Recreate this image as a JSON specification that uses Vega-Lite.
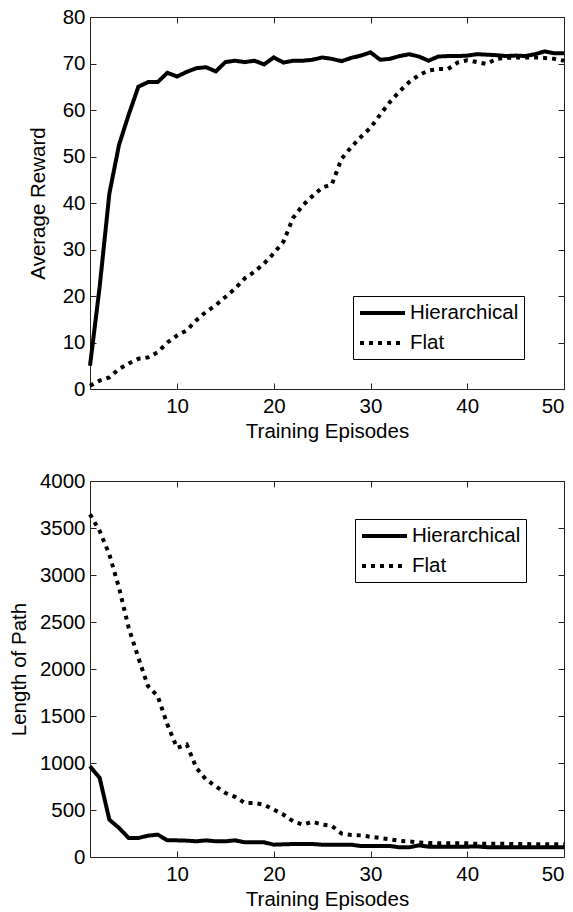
{
  "$schema": "https://vega.github.io/schema/vega-lite/v6.json",
  "background": "white",
  "padding": {"left": 8, "top": 6, "right": 0, "bottom": 0},
  "config": {
    "font": "Liberation Sans",
    "view": {"stroke": "#222", "strokeWidth": 1},
    "axis": {"domain": false, "grid": false, "labelFontSize": 20.5, "labelColor": "black", "titleFontSize": 20.5, "titleFontWeight": "normal", "titleColor": "black", "tickColor": "#222", "tickWidth": 1, "tickSize": -6},
    "legend": {"orient": "none", "title": null, "symbolType": "M-1,0H3.5", "symbolSize": 400, "symbolStrokeWidth": 4, "symbolStrokeColor": "black", "labelFontSize": 20.5, "labelColor": "black", "labelOffset": 28, "strokeColor": "black", "fillColor": "white", "padding": 5, "rowPadding": 7, "cornerRadius": 0}
  },
  "datasets": {
    "runs": [
      {"ep": 1, "method": "Hierarchical", "reward": 5, "length": 965},
      {"ep": 2, "method": "Hierarchical", "reward": 22, "length": 841},
      {"ep": 3, "method": "Hierarchical", "reward": 42, "length": 397},
      {"ep": 4, "method": "Hierarchical", "reward": 52.5, "length": 309},
      {"ep": 5, "method": "Hierarchical", "reward": 59, "length": 202},
      {"ep": 6, "method": "Hierarchical", "reward": 65, "length": 202},
      {"ep": 7, "method": "Hierarchical", "reward": 66, "length": 227},
      {"ep": 8, "method": "Hierarchical", "reward": 66, "length": 238},
      {"ep": 9, "method": "Hierarchical", "reward": 68, "length": 177},
      {"ep": 10, "method": "Hierarchical", "reward": 67.2, "length": 177},
      {"ep": 11, "method": "Hierarchical", "reward": 68.2, "length": 174},
      {"ep": 12, "method": "Hierarchical", "reward": 69, "length": 167},
      {"ep": 13, "method": "Hierarchical", "reward": 69.2, "length": 177},
      {"ep": 14, "method": "Hierarchical", "reward": 68.3, "length": 167},
      {"ep": 15, "method": "Hierarchical", "reward": 70.3, "length": 167},
      {"ep": 16, "method": "Hierarchical", "reward": 70.6, "length": 177},
      {"ep": 17, "method": "Hierarchical", "reward": 70.3, "length": 156},
      {"ep": 18, "method": "Hierarchical", "reward": 70.6, "length": 156},
      {"ep": 19, "method": "Hierarchical", "reward": 69.8, "length": 156},
      {"ep": 20, "method": "Hierarchical", "reward": 71.3, "length": 131},
      {"ep": 21, "method": "Hierarchical", "reward": 70.2, "length": 135},
      {"ep": 22, "method": "Hierarchical", "reward": 70.6, "length": 138},
      {"ep": 23, "method": "Hierarchical", "reward": 70.6, "length": 138},
      {"ep": 24, "method": "Hierarchical", "reward": 70.8, "length": 138},
      {"ep": 25, "method": "Hierarchical", "reward": 71.3, "length": 131},
      {"ep": 26, "method": "Hierarchical", "reward": 71, "length": 131},
      {"ep": 27, "method": "Hierarchical", "reward": 70.5, "length": 131},
      {"ep": 28, "method": "Hierarchical", "reward": 71.2, "length": 131},
      {"ep": 29, "method": "Hierarchical", "reward": 71.7, "length": 117},
      {"ep": 30, "method": "Hierarchical", "reward": 72.4, "length": 117},
      {"ep": 31, "method": "Hierarchical", "reward": 70.8, "length": 117},
      {"ep": 32, "method": "Hierarchical", "reward": 71, "length": 117},
      {"ep": 33, "method": "Hierarchical", "reward": 71.6, "length": 103},
      {"ep": 34, "method": "Hierarchical", "reward": 72, "length": 103},
      {"ep": 35, "method": "Hierarchical", "reward": 71.5, "length": 124},
      {"ep": 36, "method": "Hierarchical", "reward": 70.6, "length": 110},
      {"ep": 37, "method": "Hierarchical", "reward": 71.5, "length": 110},
      {"ep": 38, "method": "Hierarchical", "reward": 71.6, "length": 110},
      {"ep": 39, "method": "Hierarchical", "reward": 71.6, "length": 110},
      {"ep": 40, "method": "Hierarchical", "reward": 71.7, "length": 110},
      {"ep": 41, "method": "Hierarchical", "reward": 72, "length": 112},
      {"ep": 42, "method": "Hierarchical", "reward": 71.9, "length": 105},
      {"ep": 43, "method": "Hierarchical", "reward": 71.8, "length": 105},
      {"ep": 44, "method": "Hierarchical", "reward": 71.6, "length": 105},
      {"ep": 45, "method": "Hierarchical", "reward": 71.7, "length": 105},
      {"ep": 46, "method": "Hierarchical", "reward": 71.6, "length": 105},
      {"ep": 47, "method": "Hierarchical", "reward": 72, "length": 105},
      {"ep": 48, "method": "Hierarchical", "reward": 72.6, "length": 105},
      {"ep": 49, "method": "Hierarchical", "reward": 72.2, "length": 105},
      {"ep": 50, "method": "Hierarchical", "reward": 72.2, "length": 105},
      {"ep": 1, "method": "Flat", "reward": 0.7, "length": 3645},
      {"ep": 2, "method": "Flat", "reward": 1.8, "length": 3468},
      {"ep": 3, "method": "Flat", "reward": 2.5, "length": 3219},
      {"ep": 4, "method": "Flat", "reward": 4.3, "length": 2864},
      {"ep": 5, "method": "Flat", "reward": 5.5, "length": 2438},
      {"ep": 6, "method": "Flat", "reward": 6.5, "length": 2119},
      {"ep": 7, "method": "Flat", "reward": 6.8, "length": 1817},
      {"ep": 8, "method": "Flat", "reward": 7.9, "length": 1711},
      {"ep": 9, "method": "Flat", "reward": 10, "length": 1409},
      {"ep": 10, "method": "Flat", "reward": 11.5, "length": 1160},
      {"ep": 11, "method": "Flat", "reward": 12.6, "length": 1196},
      {"ep": 12, "method": "Flat", "reward": 14.8, "length": 948},
      {"ep": 13, "method": "Flat", "reward": 16.6, "length": 823},
      {"ep": 14, "method": "Flat", "reward": 18, "length": 752},
      {"ep": 15, "method": "Flat", "reward": 19.8, "length": 681},
      {"ep": 16, "method": "Flat", "reward": 21.6, "length": 640},
      {"ep": 17, "method": "Flat", "reward": 23.8, "length": 575},
      {"ep": 18, "method": "Flat", "reward": 25.2, "length": 575},
      {"ep": 19, "method": "Flat", "reward": 27, "length": 557},
      {"ep": 20, "method": "Flat", "reward": 29.2, "length": 504},
      {"ep": 21, "method": "Flat", "reward": 31.7, "length": 451},
      {"ep": 22, "method": "Flat", "reward": 36.8, "length": 380},
      {"ep": 23, "method": "Flat", "reward": 39.5, "length": 345},
      {"ep": 24, "method": "Flat", "reward": 41.5, "length": 375},
      {"ep": 25, "method": "Flat", "reward": 43.3, "length": 345},
      {"ep": 26, "method": "Flat", "reward": 44, "length": 330},
      {"ep": 27, "method": "Flat", "reward": 49.5, "length": 250},
      {"ep": 28, "method": "Flat", "reward": 52, "length": 235},
      {"ep": 29, "method": "Flat", "reward": 54.2, "length": 230},
      {"ep": 30, "method": "Flat", "reward": 56.2, "length": 215},
      {"ep": 31, "method": "Flat", "reward": 59, "length": 202},
      {"ep": 32, "method": "Flat", "reward": 61.7, "length": 188},
      {"ep": 33, "method": "Flat", "reward": 64, "length": 172},
      {"ep": 34, "method": "Flat", "reward": 66, "length": 165},
      {"ep": 35, "method": "Flat", "reward": 67.5, "length": 155},
      {"ep": 36, "method": "Flat", "reward": 68.5, "length": 150},
      {"ep": 37, "method": "Flat", "reward": 68.8, "length": 145},
      {"ep": 38, "method": "Flat", "reward": 68.8, "length": 145},
      {"ep": 39, "method": "Flat", "reward": 70.2, "length": 145},
      {"ep": 40, "method": "Flat", "reward": 70.7, "length": 145},
      {"ep": 41, "method": "Flat", "reward": 70.3, "length": 140},
      {"ep": 42, "method": "Flat", "reward": 69.9, "length": 140},
      {"ep": 43, "method": "Flat", "reward": 71, "length": 140},
      {"ep": 44, "method": "Flat", "reward": 71.2, "length": 140},
      {"ep": 45, "method": "Flat", "reward": 71.3, "length": 138},
      {"ep": 46, "method": "Flat", "reward": 71.3, "length": 138},
      {"ep": 47, "method": "Flat", "reward": 71.3, "length": 136},
      {"ep": 48, "method": "Flat", "reward": 71.2, "length": 136},
      {"ep": 49, "method": "Flat", "reward": 71, "length": 135},
      {"ep": 50, "method": "Flat", "reward": 70.6, "length": 135}
    ]
  },
  "spacing": 28,
  "resolve": {"scale": {"strokeDash": "independent"}, "legend": {"strokeDash": "independent"}},
  "vconcat": [
    {
      "width": 474,
      "height": 372,
      "data": {"name": "runs"},
      "resolve": {"axis": {"x": "independent", "y": "independent"}},
      "layer": [
        {
          "mark": {"type": "line", "color": "black", "strokeWidth": 4},
          "encoding": {
            "x": {"field": "ep", "type": "quantitative", "scale": {"domain": [1, 50], "nice": false, "zero": false}, "axis": {"orient": "bottom", "values": [10, 20, 30, 40, 50], "title": "Training Episodes", "labelPadding": 13.5, "titlePadding": 4}},
            "y": {"field": "reward", "type": "quantitative", "scale": {"domain": [0, 80], "nice": false}, "axis": {"orient": "left", "values": [0, 10, 20, 30, 40, 50, 60, 70, 80], "title": "Average Reward", "labelPadding": 11, "titlePadding": 14}},
            "strokeDash": {"field": "method", "type": "nominal", "scale": {"domain": ["Hierarchical", "Flat"], "range": [[1, 0], [4, 5]]}, "legend": {"legendX": 263, "legendY": 279}}
          }
        },
        {
          "mark": {"type": "line", "opacity": 0},
          "encoding": {
            "x": {"field": "ep", "type": "quantitative", "axis": {"orient": "top", "values": [10, 20, 30, 40, 50], "labels": false, "title": null}},
            "y": {"field": "reward", "type": "quantitative", "axis": {"orient": "right", "values": [0, 10, 20, 30, 40, 50, 60, 70, 80], "labels": false, "title": null}},
            "detail": {"field": "method"}
          }
        }
      ]
    },
    {
      "width": 474,
      "height": 376,
      "data": {"name": "runs"},
      "resolve": {"axis": {"x": "independent", "y": "independent"}},
      "layer": [
        {
          "mark": {"type": "line", "color": "black", "strokeWidth": 4},
          "encoding": {
            "x": {"field": "ep", "type": "quantitative", "scale": {"domain": [1, 50], "nice": false, "zero": false}, "axis": {"orient": "bottom", "values": [10, 20, 30, 40, 50], "title": "Training Episodes", "labelPadding": 13.5, "titlePadding": 4}},
            "y": {"field": "length", "type": "quantitative", "scale": {"domain": [0, 4000], "nice": false}, "axis": {"orient": "left", "values": [0, 500, 1000, 1500, 2000, 2500, 3000, 3500, 4000], "format": "d", "title": "Length of Path", "labelPadding": 11, "titlePadding": 10}},
            "strokeDash": {"field": "method", "type": "nominal", "scale": {"domain": ["Hierarchical", "Flat"], "range": [[1, 0], [4, 5]]}, "legend": {"legendX": 265, "legendY": 38}}
          }
        },
        {
          "mark": {"type": "line", "opacity": 0},
          "encoding": {
            "x": {"field": "ep", "type": "quantitative", "axis": {"orient": "top", "values": [10, 20, 30, 40, 50], "labels": false, "title": null}},
            "y": {"field": "length", "type": "quantitative", "axis": {"orient": "right", "values": [0, 500, 1000, 1500, 2000, 2500, 3000, 3500, 4000], "labels": false, "title": null}},
            "detail": {"field": "method"}
          }
        }
      ]
    }
  ]
}
